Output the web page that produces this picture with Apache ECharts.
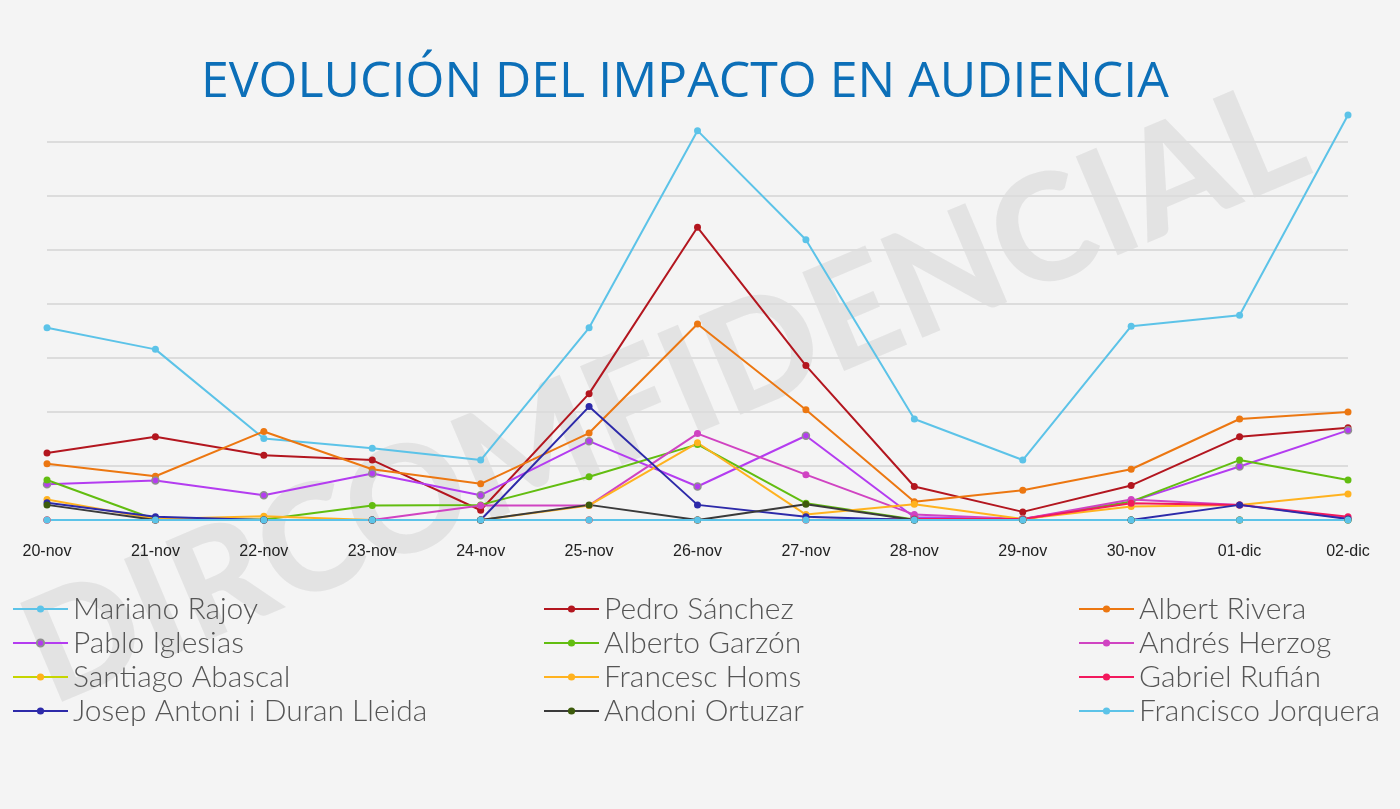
<!DOCTYPE html>
<html>
<head>
<meta charset="utf-8">
<title>Evolución del impacto en audiencia</title>
<script src="https://cdn.jsdelivr.net/npm/echarts@6/dist/echarts.min.js"></script>
<style>
  html, body { margin: 0; padding: 0; background: #f4f4f4; }
  #chart { width: 1400px; height: 809px; }
</style>
</head>
<body>
<div id="chart"></div>
<script>
var days = ['20-nov', '21-nov', '22-nov', '23-nov', '24-nov', '25-nov', '26-nov',
            '27-nov', '28-nov', '29-nov', '30-nov', '01-dic', '02-dic']

// valores (escala arbitraria, 10 = una linea de rejilla)
var rajoy     = [35.6, 31.6, 15.1, 13.3, 11.1, 35.6, 72.1, 51.9, 18.7, 11.1, 35.9, 37.9, 75.0]
var sanchez   = [12.4, 15.4, 12.0, 11.1, 1.8, 23.4, 54.2, 28.6, 6.2, 1.5, 6.4, 15.4, 17.1]
var rivera    = [10.4, 8.1, 16.4, 9.4, 6.7, 16.1, 36.3, 20.4, 3.4, 5.5, 9.4, 18.7, 20.0]
var iglesias  = [6.6, 7.3, 4.6, 8.6, 4.6, 14.6, 6.2, 15.6, 0.5, 0.2, 3.4, 9.9, 16.6]
var garzon    = [7.4, 0.1, 0.1, 2.7, 2.8, 8.0, 14.0, 3.1, 0.1, 0.1, 3.4, 11.1, 7.4]
var herzog    = [0, 0, 0, 0, 2.7, 2.7, 16.0, 8.4, 1.0, 0.2, 3.8, 2.8, 0.3]
var abascal   = [0, 0, 0, 0, 0, 0, 0, 0, 0, 0, 0, 0, 0]
var homs      = [3.8, 0.2, 0.7, 0, 0, 2.7, 14.3, 1.0, 2.9, 0.2, 2.5, 2.8, 4.8]
var rufian    = [0, 0, 0, 0, 0, 0, 0, 0, 0.2, 0.2, 3.1, 2.8, 0.6]
var duran     = [3.2, 0.6, 0, 0, 0, 21.0, 2.8, 0.6, 0, 0, 0, 2.8, 0.2]
var ortuzar   = [2.8, 0, 0, 0, 0, 2.8, 0, 2.9, 0, 0, 0, 0, 0]
var jorquera  = [0, 0, 0, 0, 0, 0, 0, 0, 0, 0, 0, 0, 0]

var chart = echarts.init(document.getElementById('chart'))

function serie(name, data, lineColor, dotColor, border) {
    return {
        name: name,
        type: 'line',
        data: data,
        symbol: 'circle',
        symbolSize: 7,
        showSymbol: true,
        clip: false,
        lineStyle: { color: lineColor, width: 2 },
        itemStyle: {
            color: dotColor || lineColor,
            borderColor: border || (dotColor || lineColor),
            borderWidth: border ? 1.5 : 0
        },
        emphasis: { disabled: true }
    }
}

var series = [
    serie('Mariano Rajoy', rajoy, '#5cc3e8'),
    serie('Pedro Sánchez', sanchez, '#b3161f'),
    serie('Albert Rivera', rivera, '#ec7711'),
    serie('Pablo Iglesias', iglesias, '#b43cf0', '#b43cf0', '#8f8f8f'),
    serie('Alberto Garzón', garzon, '#62bd10'),
    serie('Andrés Herzog', herzog, '#d043c2'),
    serie('Santiago Abascal', abascal, '#c6d500', '#ffb21a'),
    serie('Francesc Homs', homs, '#ffb21f'),
    serie('Gabriel Rufián', rufian, '#f2195d'),
    serie('Josep Antoni i Duran Lleida', duran, '#2d2aa9'),
    serie('Andoni Ortuzar', ortuzar, '#3a3a3a', '#3d5b0c'),
    serie('Francisco Jorquera', jorquera, '#5cc3e8')
]

var legendText = {
    fontFamily: 'Lato',
    fontWeight: 300,
    fontSize: 30,
    lineHeight: 34,
    color: '#555'
}

function columna(left, names) {
    return {
        orient: 'vertical',
        left: left,
        top: 592,
        padding: 0,
        itemGap: 0,
        itemWidth: 55,
        itemHeight: 9,
        selectedMode: false,
        textStyle: legendText,
        data: names
    }
}

var option = {
    backgroundColor: '#f4f4f4',
    animation: false,
    title: {
        text: 'EVOLUCIÓN DEL IMPACTO EN AUDIENCIA',
        left: 196,
        top: 53,
        textStyle: {
            fontFamily: 'Open Sans',
            fontWeight: 'normal',
            fontSize: 50,
            color: '#0c6fb8'
        }
    },
    graphic: [{
        type: 'text',
        z: -1,
        x: 665,
        y: 395,
        rotation: 0.40,
        style: {
            text: 'DIRCOMFIDENCIAL',
            fontFamily: 'Lato',
            fontWeight: 900,
            fontSize: 148,
            fill: 'rgba(170,170,170,0.22)',
            align: 'center',
            verticalAlign: 'middle'
        }
    }],
    legend: [
        columna(12, ['Mariano Rajoy', 'Pablo Iglesias', 'Santiago Abascal', 'Josep Antoni i Duran Lleida']),
        columna(543, ['Pedro Sánchez', 'Alberto Garzón', 'Francesc Homs', 'Andoni Ortuzar']),
        columna(1078, ['Albert Rivera', 'Andrés Herzog', 'Gabriel Rufián', 'Francisco Jorquera'])
    ],
    grid: {
        left: 47,
        right: 52,
        top: 88,
        bottom: 289
    },
    xAxis: {
        type: 'category',
        boundaryGap: false,
        data: days,
        axisLine: { show: false },
        axisTick: { show: false },
        axisLabel: {
            margin: 24,
            fontFamily: 'Liberation Sans',
            fontSize: 16,
            color: '#222'
        }
    },
    yAxis: {
        type: 'value',
        min: 0,
        max: 80,
        interval: 10,
        axisLabel: { show: false },
        axisLine: { show: false },
        axisTick: { show: false },
        splitLine: {
            lineStyle: {
                width: 2,
                color: ['#dcdcdc', '#dcdcdc', '#dcdcdc', '#dcdcdc', '#dcdcdc',
                        '#dcdcdc', '#dcdcdc', '#dcdcdc', 'rgba(0,0,0,0)']
            }
        }
    },
    series: series
}

chart.setOption(option)
</script>
</body>
</html>
